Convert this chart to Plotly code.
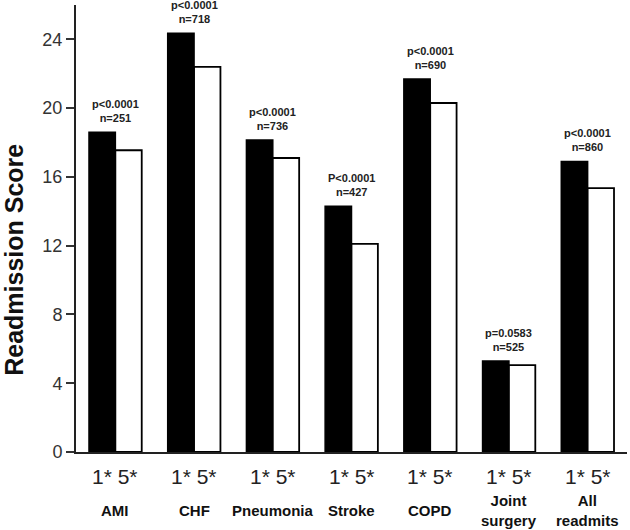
import plotly.graph_objects as go

categories = ["AMI", "CHF", "Pneumonia", "Stroke", "COPD", "Joint<br>surgery", "All<br>readmits"]
one_star = [18.6, 24.35, 18.15, 14.3, 21.7, 5.3, 16.9]
five_star = [17.55, 22.4, 17.1, 12.1, 20.3, 5.05, 15.35]
p_labels = ["p&lt;0.0001", "p&lt;0.0001", "p&lt;0.0001", "P&lt;0.0001", "p&lt;0.0001", "p=0.0583", "p&lt;0.0001"]
n_labels = ["n=251", "n=718", "n=736", "n=427", "n=690", "n=525", "n=860"]
star_label = "1* 5*"
y_ticks = [0, 4, 8, 12, 16, 20, 24]

fig = go.Figure()
fig.add_trace(go.Bar(x=categories, y=one_star, name="1*",
                     marker=dict(color="black", line=dict(color="black", width=1.5))))
fig.add_trace(go.Bar(x=categories, y=five_star, name="5*",
                     marker=dict(color="white", line=dict(color="black", width=1.8))))

ann = []
for c, a, b, p, n in zip(categories, one_star, five_star, p_labels, n_labels):
    ann.append(dict(x=c, y=max(a, b), xref="x", yref="y", yanchor="bottom", yshift=6,
                    text=f"<b>{p}</b><br><b>{n}</b>", showarrow=False,
                    font=dict(family="Liberation Sans", size=11, color="#222")))
    ann.append(dict(x=c, y=0, xref="x", yref="paper", yanchor="middle", yshift=-24,
                    text=star_label, showarrow=False,
                    font=dict(family="Liberation Sans", size=21, color="#222")))
    ann.append(dict(x=c, y=0, xref="x", yref="paper", yanchor="middle", yshift=-58,
                    text=f"<b>{c}</b>", showarrow=False,
                    font=dict(family="Liberation Sans", size=15, color="#111")))
ann.append(dict(x=0, y=0.43, xref="paper", yref="paper", xanchor="center", yanchor="middle",
                xshift=-62, textangle=-90,
                text="<b>Readmission Score</b>", showarrow=False,
                font=dict(family="Liberation Sans", size=25, color="#111")))

fig.update_layout(
    width=630, height=530,
    margin=dict(l=76, r=3, t=5, b=78),
    paper_bgcolor="white", plot_bgcolor="white",
    barmode="group", bargap=0.33, bargroupgap=0,
    showlegend=False,
    annotations=ann,
    xaxis=dict(range=[-0.5, 6.5], showticklabels=False, ticks="", showgrid=False,
               showline=True, linecolor="#222", linewidth=2, zeroline=False),
    yaxis=dict(range=[0, 26], tickvals=y_ticks, ticks="outside", ticklen=8, tickwidth=1.5,
               tickcolor="#333", showgrid=False, zeroline=False, showline=True,
               linecolor="#222", linewidth=2,
               tickfont=dict(family="Liberation Sans", size=18, color="#333")),
)
fig.write_html("out.html", config={"displayModeBar": False},
               post_script="document.body.style.margin='0';document.body.style.overflow='hidden';")
